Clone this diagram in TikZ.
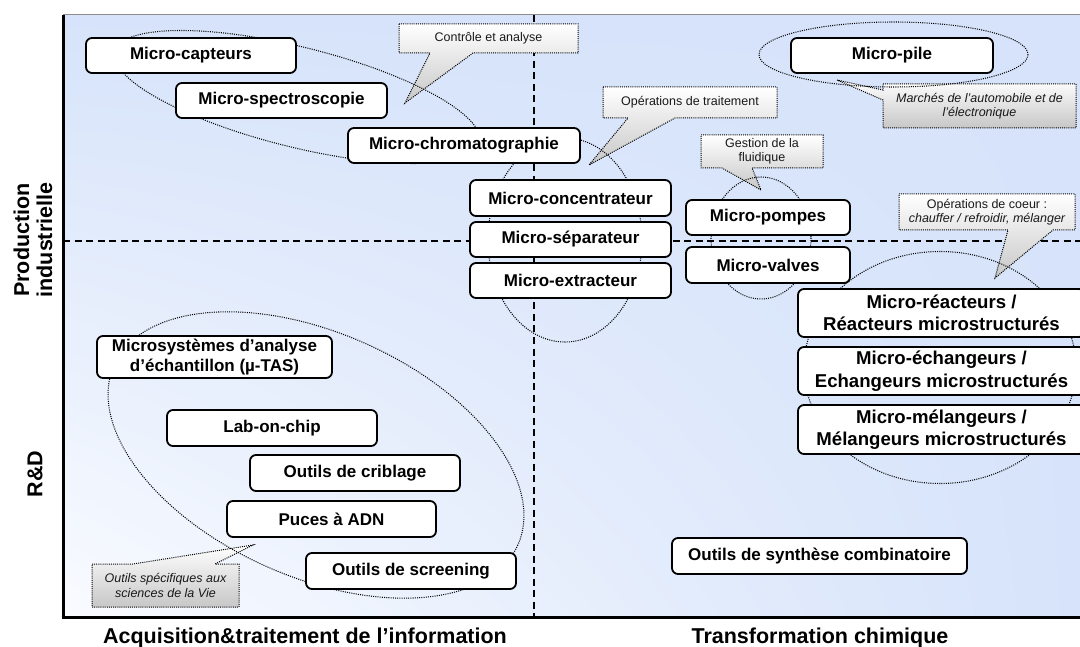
\documentclass[tikz,border=0pt]{standalone}
\usepackage{fontspec}
\setmainfont{Liberation Sans}
\usetikzlibrary{shadings}
\definecolor{bgblue}{RGB}{214,227,250}
\definecolor{bgwhite}{RGB}{249,251,255}
\begin{document}
\begin{tikzpicture}[x=1pt,y=-1pt,
  box/.style={draw=black,line width=1.8pt,fill=white,rounded corners=6pt,align=center,inner sep=0pt,
    font=\bfseries\fontsize{17}{22}\selectfont},
  bigbox/.style={box,minimum width=287pt,font=\bfseries\fontsize{18.6}{22.5}\selectfont},
  note/.style={align=center,inner sep=0pt,text=black!90,font=\fontsize{12.5}{14.5}\selectfont},
  bubble/.style={draw=black,line width=1pt,dash pattern=on 1pt off 1.1pt,top color=white,bottom color=black!22},
  ring/.style={draw=black,line width=1.05pt,dash pattern=on 1pt off 1.2pt},
  divider/.style={draw=black,line width=1.4pt,dash pattern=on 7pt off 4.5pt},
  axisname/.style={font=\bfseries\fontsize{21.5}{23}\selectfont,align=center,inner sep=0pt},
]
\useasboundingbox (0,0) rectangle (1080,647);

% plotting area
\shade[lower left=bgwhite,upper left=bgblue,upper right=bgblue,lower right=bgblue]
  (63,15) rectangle (1080,617);
\draw[black!45,line width=1pt] (63,15) -- (1080,15);

% quadrant dividers
\coordinate (vtop) at (534,15);
\coordinate (vbot) at (534,617);
\coordinate (hleft) at (63,241);
\coordinate (hright) at (1080,241);
\draw[divider] (vtop) -- (vbot);
\draw[divider] (hleft) -- (hright);

% callouts
\path[bubble] (399,24) -- (578,24) -- (578,53) -- (473,53) -- (405,103) -- (430,53) -- (399,53) -- cycle;
\path[bubble] (603,87) -- (777,87) -- (777,118) -- (675,118) -- (589,165) -- (628,118) -- (603,118) -- cycle;
\path[bubble] (701,135) -- (823,135) -- (823,168) -- (752,168) -- (761,190) -- (722,168) -- (701,168) -- cycle;
\path[bubble] (883,84) -- (1076,84) -- (1076,128) -- (883,128) -- (883,100) -- (837,80) -- (883,90) -- cycle;
\path[bubble] (899,194) -- (1075,194) -- (1075,230) -- (1053,230) -- (995,278) -- (1008,230) -- (899,230) -- cycle;
\path[bubble] (92,564) -- (133,564) -- (253,545) -- (215,564) -- (239,564) -- (239,607) -- (92,607) -- cycle;

\node[note] (n1) at (488.5,38.5) {Contrôle et analyse};
\node[note] (n2) at (690,102.5) {Opérations de traitement};
\node[note] (n3) at (762,151.5) {Gestion de la\\fluidique};
\node[note] (n4) at (979.5,106) {\itshape Marchés de l'automobile et de\\\itshape l'électronique};
\node[note] (n5) at (987,212) {Opérations de coeur :\\\itshape chauffer / refroidir, mélanger};
\node[note] (n6) at (165.5,585.5) {\itshape Outils spécifiques aux\\\itshape sciences de la Vie};

% groupings
\draw[ring,rotate around={-14:(297,97)}] (297,97) ellipse (188 and 50);
\draw[ring] (565,240) ellipse (77 and 102);
\draw[ring] (761,238) ellipse (50 and 61);
\draw[ring] (893.5,54.5) ellipse (134.5 and 32.5);
\draw[ring] (940,367.5) ellipse (136 and 116);
\draw[ring,rotate around={-24:(316,455)}] (316,455) ellipse (221 and 122);

% technologies
\node[box,minimum width=210pt,minimum height=35pt] (cap) at (191,55.5) {Micro-capteurs};
\node[box,minimum width=211pt,minimum height=35pt] (spec) at (281.5,100.5) {Micro-spectroscopie};
\node[box,minimum width=232pt,minimum height=35pt] (chrom) at (464,145.5) {Micro-chromatographie};
\node[box,minimum width=201pt,minimum height=36pt] (conc) at (570.5,198) {Micro-concentrateur};
\node[box,minimum width=201pt,minimum height=35pt] (sep) at (570.5,239.5) {Micro-séparateur};
\node[box,minimum width=201pt,minimum height=35pt] (ext) at (570.5,280.5) {Micro-extracteur};
\node[box,minimum width=164pt,minimum height=35pt] (pomp) at (768,217.5) {Micro-pompes};
\node[box,minimum width=164pt,minimum height=36pt] (valv) at (768,265) {Micro-valves};
\node[box,minimum width=202pt,minimum height=35pt] (pile) at (892,55.5) {Micro-pile};
\node[bigbox,minimum height=48pt] (reac) at (941.5,313) {Micro-réacteurs /\\Réacteurs microstructurés};
\node[bigbox,minimum height=48pt] (ech) at (941.5,371) {Micro-échangeurs /\\Echangeurs microstructurés};
\node[bigbox,minimum height=49pt] (mel) at (941.5,429.5) {Micro-mélangeurs /\\Mélangeurs microstructurés};
\node[box,minimum width=235pt,minimum height=42pt,font=\bfseries\fontsize{17}{20}\selectfont] (tas) at (214.5,357) {Microsystèmes d’analyse\\d’échantillon (µ-TAS)};
\node[box,minimum width=210pt,minimum height=36pt] (lab) at (272,428) {Lab-on-chip};
\node[box,minimum width=210pt,minimum height=36pt] (crib) at (355,473) {Outils de criblage};
\node[box,minimum width=209pt,minimum height=36pt] (adn) at (331.5,519) {Puces à ADN};
\node[box,minimum width=210pt,minimum height=36pt] (scr) at (411,571) {Outils de screening};
\node[box,minimum width=295pt,minimum height=36pt] (synth) at (819.5,556) {Outils de synthèse combinatoire};

% axes
\draw[black,line width=3pt] (63,15) -- (63,618.5);
\draw[black,line width=3pt] (61.5,617) -- (1080,617);

\node[axisname,rotate=90] (prod) at (33,240) {Production\\industrielle};
\node[axisname,rotate=90] (rd) at (35,474) {R\&D};
\node[axisname,anchor=base] (acq) at (305,643.5) {Acquisition\&traitement de l’information};
\node[axisname,anchor=base] (trans) at (820,643.5) {Transformation chimique};
\end{tikzpicture}
\end{document}
